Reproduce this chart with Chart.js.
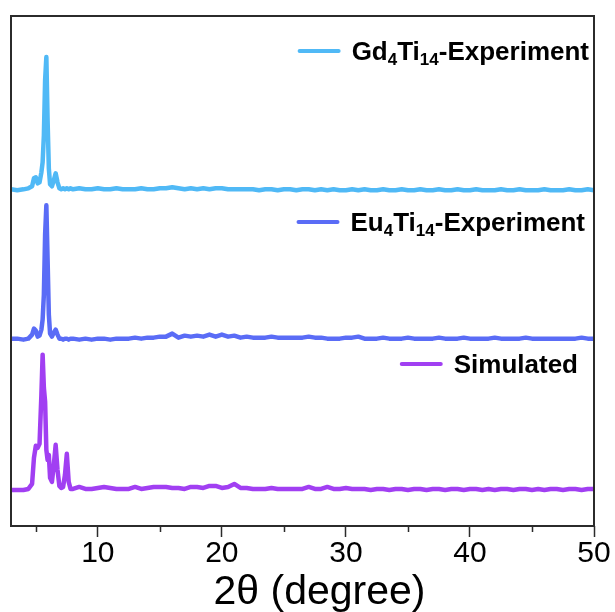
<!DOCTYPE html>
<html>
<head>
<meta charset="utf-8">
<script src="https://cdn.jsdelivr.net/npm/chart.js@4"></script>
<style>
  html, body { margin: 0; padding: 0; background: #fff; }
  #wrap { position: relative; width: 615px; height: 612px; }
</style>
</head>
<body>
<div id="wrap"><canvas id="xrdChart"></canvas></div>
<script>
// 2θ grid (fine near the low-angle peaks, coarser afterwards)
const twoTheta = [
  3.0, 3.5, 4.0, 4.4, 4.7, 4.85, 5.0, 5.15, 5.3, 5.45,
  5.55, 5.65, 5.75, 5.85, 5.95, 6.05, 6.15, 6.3, 6.45, 6.6,
  6.75, 6.9, 7.05, 7.2, 7.35, 7.5, 7.65, 7.8,
  8, 8.5, 9, 9.5, 10, 10.5, 11, 11.5, 12, 12.5,
  13, 13.5, 14, 14.5, 15, 15.5, 16, 16.5, 17, 17.5,
  18, 18.5, 19, 19.5, 20, 20.5, 21, 21.5, 22, 22.5,
  23, 23.5, 24, 24.5, 25, 25.5, 26, 26.5, 27, 27.5,
  28, 28.5, 29, 29.5, 30, 30.5, 31, 31.5, 32, 32.5,
  33, 33.5, 34, 34.5, 35, 35.5, 36, 36.5, 37, 37.5,
  38, 38.5, 39, 39.5, 40, 40.5, 41, 41.5, 42, 42.5,
  43, 43.5, 44, 44.5, 45, 45.5, 46, 46.5, 47, 47.5,
  48, 48.5, 49, 49.5, 50
];

// intensities (a.u.), above each trace's baseline
const gdIntensity = [
  1, 0, 1, 2, 4, 12, 13, 7, 8, 18,
  28, 55, 110, 133, 70, 22, 6, 4, 10, 17,
  8, 2, 1, 2, 1, 2, 1, 2,
  1, 2, 1, 1, 2, 1, 1, 2, 1, 1,
  1, 2, 1, 1, 2, 2, 3, 2, 1, 2,
  1, 2, 1, 2, 2, 1, 1, 1, 1, 1,
  0, 1, 1, 0, 1, 1, 0, 1, 1, 0,
  1, 0, 1, 0, 0, 1, 0, 1, 0, 0,
  1, 0, 0, 1, 0, 0, 1, 0, 0, 1,
  0, 0, 1, 0, 0, 1, 0, 0, 0, 1,
  0, 0, 1, 0, 0, 0, 1, 0, 0, 0,
  1, 0, 0, 1, 0
];

const euIntensity = [
  1, 1, 0, 1, 5, 11, 9, 3, 4, 10,
  20, 45, 105, 134, 80, 25, 6, 3, 7, 10,
  5, 1, 1, 0, 1, 1, 0, 1,
  1, 0, 1, 0, 1, 1, 0, 1, 1, 1,
  2, 1, 2, 2, 3, 3, 6, 2, 4, 3,
  4, 3, 5, 3, 5, 3, 4, 2, 3, 2,
  2, 2, 3, 2, 2, 2, 2, 2, 3, 2,
  2, 1, 1, 1, 2, 2, 3, 1, 1, 1,
  2, 1, 1, 1, 2, 1, 1, 1, 1, 2,
  1, 1, 1, 2, 1, 1, 1, 1, 2, 1,
  1, 1, 1, 2, 1, 1, 1, 1, 1, 1,
  1, 1, 2, 1, 1
];

const simIntensity = [
  0, 0, 0, 1, 6, 32, 44, 42, 46, 95,
  135, 102, 88, 40, 30, 35, 12, 8, 25, 45,
  20, 4, 2, 3, 15, 36, 8, 1,
  1, 3, 1, 1, 2, 3, 2, 1, 1, 1,
  3, 1, 2, 3, 3, 3, 2, 2, 1, 3,
  3, 2, 4, 4, 2, 3, 6, 2, 2, 1,
  1, 1, 2, 1, 1, 1, 1, 1, 3, 1,
  1, 3, 1, 1, 2, 1, 1, 1, 0, 1,
  1, 0, 1, 1, 0, 1, 1, 0, 1, 1,
  0, 1, 1, 0, 1, 1, 0, 1, 0, 1,
  1, 0, 1, 1, 0, 1, 0, 1, 1, 0,
  1, 1, 0, 1, 1
];

// vertical stacking offsets of the three patterns
const offsets = { gd: 335, eu: 186, sim: 36 };

const seriesNames = ["Gd4Ti14-Experiment", "Eu4Ti14-Experiment", "Simulated"];
const seriesColors = ["#50b9f6", "#5a6cf6", "#a13ff2"];

const xMajorTicks = [10, 20, 30, 40, 50];
const xMinorTicks = [5, 15, 25, 35, 45];
const xTitle = "2θ (degree)";

const toPoints = (ints, off) => twoTheta.map((x, i) => ({ x: x, y: ints[i] + off }));

// legend label parts: [text, isSubscript]
const legendParts = [
  [["Gd", false], ["4", true], ["Ti", false], ["14", true], ["-Experiment", false]],
  [["Eu", false], ["4", true], ["Ti", false], ["14", true], ["-Experiment", false]],
  [["Simulated", false]],
];
// offsets from the plot's top / right edge
const legendRowY = [35, 206, 348];
const legendRowRight = [5, 9, 16];

const fontFamily = "'Liberation Sans', Arial, sans-serif";

const framePlugin = {
  id: "frame",
  afterDraw(chart) {
    const { ctx, chartArea } = chart;
    const xs = chart.scales.x;
    ctx.save();
    ctx.strokeStyle = "#2b2b2b";
    ctx.lineWidth = 2;
    ctx.strokeRect(chartArea.left, chartArea.top, chartArea.right - chartArea.left, chartArea.bottom - chartArea.top);
    ctx.lineWidth = 1.5;
    ctx.beginPath();
    xMinorTicks.forEach((v) => {
      const px = Math.round(xs.getPixelForValue(v)) + 0.5;
      ctx.moveTo(px, chartArea.bottom);
      ctx.lineTo(px, chartArea.bottom + 6);
    });
    ctx.stroke();

    // axis title
    ctx.fillStyle = "#000";
    ctx.font = "41px " + fontFamily;
    ctx.textAlign = "center";
    ctx.textBaseline = "alphabetic";
    ctx.fillText(xTitle, (chartArea.left + chartArea.right) / 2 + 17, chart.height - 8);
    ctx.restore();
  },
};

const legendPlugin = {
  id: "stackLegend",
  afterDatasetsDraw(chart) {
    const { ctx, chartArea } = chart;
    const mainFont = "bold 26px " + fontFamily;
    const subFont = "bold 17px " + fontFamily;
    ctx.save();
    legendParts.forEach((parts, i) => {
      let w = 0;
      parts.forEach(([t, sub]) => {
        ctx.font = sub ? subFont : mainFont;
        w += ctx.measureText(t).width;
      });
      const right = chartArea.right - legendRowRight[i];
      const cy = chartArea.top + legendRowY[i];
      let x = right - w;
      ctx.strokeStyle = seriesColors[i];
      ctx.lineWidth = 4;
      ctx.lineCap = "round";
      ctx.beginPath();
      ctx.moveTo(x - 52, cy);
      ctx.lineTo(x - 13, cy);
      ctx.stroke();
      ctx.fillStyle = "#000";
      ctx.textBaseline = "alphabetic";
      parts.forEach(([t, sub]) => {
        ctx.font = sub ? subFont : mainFont;
        ctx.fillText(t, x, sub ? cy + 14 : cy + 9);
        x += ctx.measureText(t).width;
      });
    });
    ctx.restore();
  },
};

const ctx = document.getElementById("xrdChart");

new Chart(ctx, {
  type: "line",
  data: {
    datasets: [
      { label: seriesNames[0], data: toPoints(gdIntensity, offsets.gd), borderColor: seriesColors[0] },
      { label: seriesNames[1], data: toPoints(euIntensity, offsets.eu), borderColor: seriesColors[1] },
      { label: seriesNames[2], data: toPoints(simIntensity, offsets.sim), borderColor: seriesColors[2] },
    ].map((d) => ({
      ...d,
      borderWidth: 4.5,
      pointRadius: 0,
      tension: 0,
      fill: false,
      borderJoinStyle: "round",
      borderCapStyle: "round",
    })),
  },
  options: {
    responsive: true,
    maintainAspectRatio: false,
    animation: false,
    layout: { padding: { left: 11, top: 16, right: 21, bottom: 41 } },
    plugins: {
      legend: { display: false },
      tooltip: { enabled: false },
    },
    scales: {
      x: {
        type: "linear",
        min: 3,
        max: 50,
        border: { display: false },
        grid: {
          drawOnChartArea: false,
          drawTicks: true,
          tickLength: 11,
          tickColor: "#2b2b2b",
          tickWidth: 1.5,
        },
        afterBuildTicks: (scale) => {
          scale.ticks = xMajorTicks.map((v) => ({ value: v }));
        },
        ticks: {
          color: "#000",
          padding: 2,
          maxRotation: 0,
          font: { family: fontFamily, size: 30, lineHeight: 1.0 },
        },
        title: { display: false },
      },
      y: {
        display: false,
        min: 0,
        max: 509,
      },
    },
  },
  plugins: [framePlugin, legendPlugin],
});
</script>
</body>
</html>
